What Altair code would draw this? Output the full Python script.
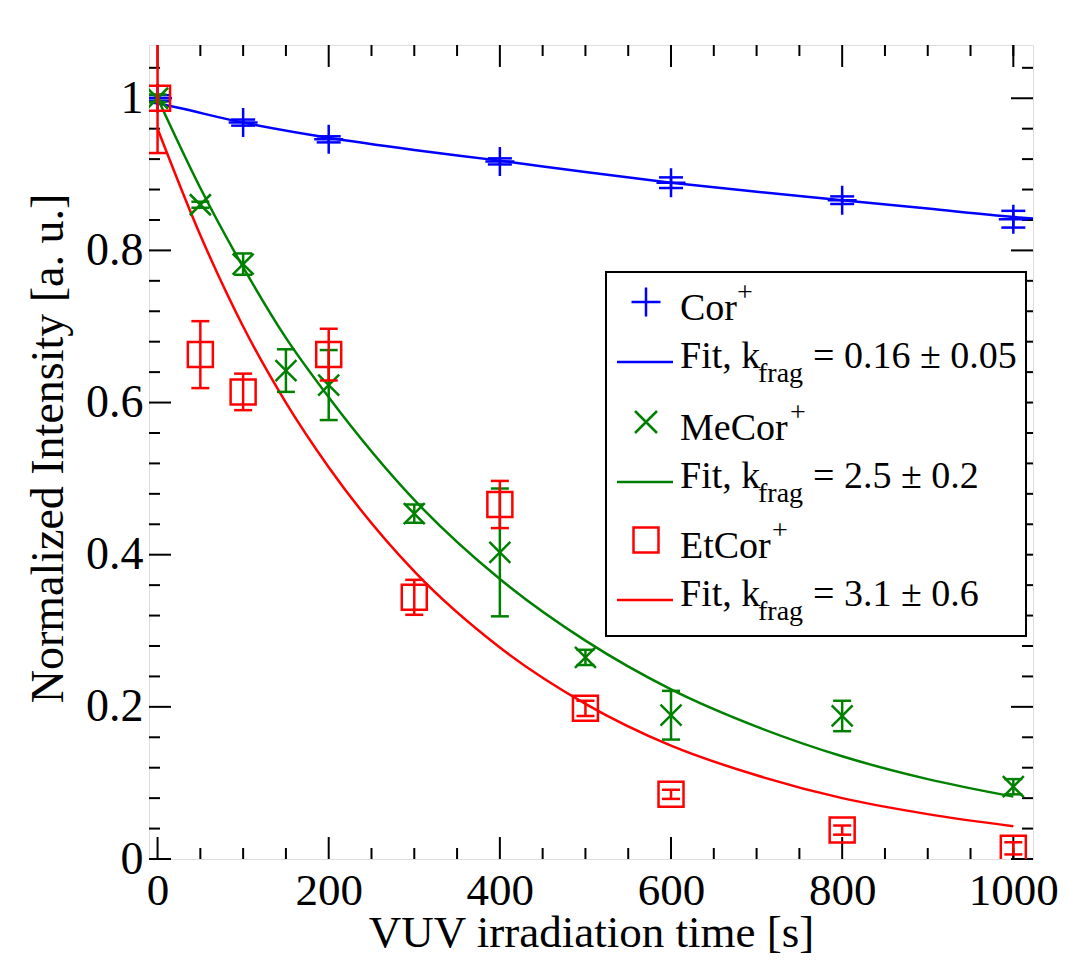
import altair as alt
import pandas as pd

# ---------------- data ----------------
t_cor = [0, 100, 200, 400, 600, 800, 1000]
cor = [1.0, 0.968, 0.946, 0.917, 0.889, 0.866, 0.841]
cor_err = [0.004, 0.004, 0.004, 0.004, 0.007, 0.005, 0.011]

t_me = [0, 50, 100, 150, 200, 300, 400, 500, 600, 800, 1000]
me = [1.0, 0.860, 0.782, 0.642, 0.623, 0.454, 0.403, 0.265, 0.189, 0.188, 0.095]
me_err = [0.005, 0.004, 0.014, 0.028, 0.046, 0.012, 0.084, 0.010, 0.032, 0.020, 0.010]

t_et = [0, 50, 100, 200, 300, 400, 500, 600, 800, 1000]
et = [1.0, 0.663, 0.614, 0.663, 0.344, 0.466, 0.198, 0.085, 0.038, 0.014]
et_err = [0.072, 0.044, 0.024, 0.034, 0.023, 0.031, 0.010, 0.006, 0.006, 0.008]

fit_cor_t = [-10, 0, 100, 200, 300, 400, 500, 600, 700, 800, 900, 1000, 1023]
fit_cor = [0.995, 0.993, 0.968, 0.948, 0.932, 0.918, 0.903, 0.889, 0.877, 0.866, 0.855, 0.844, 0.842]

fit_t = [0, 50, 100, 150, 200, 300, 400, 500, 600, 700, 800, 900, 1000]
fit_me = [1.0, 0.882, 0.778, 0.685, 0.607, 0.472, 0.368, 0.287, 0.223, 0.174, 0.135, 0.105, 0.082]
fit_et = [0.96, 0.82, 0.70, 0.60, 0.515, 0.378, 0.278, 0.204, 0.149, 0.110, 0.080, 0.059, 0.043]

x_major = [0, 200, 400, 600, 800, 1000]
x_minor = [50, 100, 150, 250, 300, 350, 450, 500, 550, 650, 700, 750, 850, 900, 950, 1000]
y_major = [0, 0.2, 0.4, 0.6, 0.8, 1.0]
y_minor = [0.04, 0.08, 0.12, 0.16, 0.24, 0.28, 0.32, 0.36, 0.44, 0.48, 0.52, 0.56,
           0.64, 0.68, 0.72, 0.76, 0.84, 0.88, 0.92, 0.96, 1.04]

legend_names = ["Cor", "MeCor", "EtCor"]
legend_fits = ["= 0.16 \u00b1 0.05", "= 2.5 \u00b1 0.2", "= 3.1 \u00b1 0.6"]

BLUE, GREEN, RED = "#0000ff", "#008000", "#ff0000"
FONT = "Liberation Serif"
W, H = 884, 814

xscale = alt.Scale(domain=[-10, 1023], nice=False, zero=False)
yscale = alt.Scale(domain=[0, 1.07], nice=False, zero=False)

xaxis = alt.Axis(values=x_major, ticks=False, domain=False, grid=False, format="d",
                 labelFont=FONT, labelFontSize=45, labelColor="black", labelPadding=9,
                 labelFlush=False, labelOverlap=False,
                 title="VUV irradiation time [s]", titleFont=FONT, titleFontSize=45,
                 titleFontWeight="normal", titleColor="black",
                 titleBaseline="alphabetic", titleY=87)
yaxis = alt.Axis(values=y_major, ticks=False, domain=False, grid=False, format=".1~f",
                 labelFont=FONT, labelFontSize=46, labelColor="black", labelPadding=6,
                 labelFlush=False, labelOverlap=False,
                 title="Normalized Intensity [a. u.]", titleFont=FONT, titleFontSize=46,
                 titleFontWeight="normal", titleColor="black", titleAngle=270,
                 titleAlign="center", titleBaseline="alphabetic", titleX=-87, titleY=403)


def X(field="t"):
    return alt.X(f"{field}:Q", scale=xscale, axis=xaxis)


def Y(field="y"):
    return alt.Y(f"{field}:Q", scale=yscale, axis=yaxis)


def table(t, y, e=None):
    d = pd.DataFrame({"t": t, "y": y})
    if e is not None:
        d["lo"] = [a - b for a, b in zip(y, e)]
        d["hi"] = [a + b for a, b in zip(y, e)]
    return d


PLUS = "M-1,0L1,0M0,-1L0,1"
CROSS = "M-1,-1L1,1M-1,1L1,-1"
HBAR = "M-1,0L1,0"

layers = []

# ticks (inward, on all four sides)
xmaj = pd.DataFrame({"t": x_major})
xmin = pd.DataFrame({"t": x_minor})
ymaj = pd.DataFrame({"y": y_major})
ymin = pd.DataFrame({"y": y_minor})
for d, L in [(xmin, 11), (xmaj, 22)]:
    layers.append(alt.Chart(d).mark_rule(color="black", strokeWidth=2).encode(
        x=X(), y=alt.value(H), y2=alt.value(H - L)))
    layers.append(alt.Chart(d).mark_rule(color="black", strokeWidth=2).encode(
        x=X(), y=alt.value(0), y2=alt.value(L)))
for d, L in [(ymin, 11), (ymaj, 22)]:
    layers.append(alt.Chart(d).mark_rule(color="black", strokeWidth=2).encode(
        y=Y(), x=alt.value(0), x2=alt.value(L)))
    layers.append(alt.Chart(d).mark_rule(color="black", strokeWidth=2).encode(
        y=Y(), x=alt.value(W), x2=alt.value(W - L)))

# fit curves
for ft, fy, col in [(fit_cor_t, fit_cor, BLUE), (fit_t, fit_me, GREEN), (fit_t, fit_et, RED)]:
    layers.append(alt.Chart(table(ft, fy)).mark_line(
        color=col, strokeWidth=2.5, interpolate="monotone", clip=True).encode(x=X(), y=Y()))

# data with error bars
series = [
    (t_cor, cor, cor_err, BLUE, PLUS, 841, 24),
    (t_me, me, me_err, GREEN, CROSS, 441, 18),
    (t_et, et, et_err, RED, "square", 625, 18),
]
for t, y, e, col, shape, size, cap in series:
    d = table(t, y, e)
    base = alt.Chart(d)
    layers.append(base.mark_rule(color=col, strokeWidth=2.5, clip=True).encode(
        x=X(), y=Y("lo"), y2=alt.Y2("hi")))
    for f in ["lo", "hi"]:
        layers.append(base.mark_point(shape=HBAR, size=cap * cap, filled=False,
                                      stroke=col, strokeWidth=2.5, opacity=1, clip=True).encode(
            x=X(), y=Y(f)))
    layers.append(base.mark_point(shape=shape, size=size, filled=False, stroke=col,
                                  strokeWidth=2.5, opacity=1, clip=True).encode(x=X(), y=Y()))

# legend (drawn by hand for the sub/superscripts)
one = pd.DataFrame({"v": [0]})
layers.append(alt.Chart(one).mark_rect(fill="white", stroke="black", strokeWidth=2).encode(
    x=alt.value(457), x2=alt.value(877), y=alt.value(227), y2=alt.value(591)))

syms = [(PLUS, 841, BLUE), (CROSS, 484, GREEN), ("square", 625, RED)]
lcols = [BLUE, GREEN, RED]
sup_x = [588, 641, 623]
row0 = [275, 395, 513]       # baselines of species names
for i in range(3):
    shp, sz, col = syms[i]
    ycen = row0[i] - 18
    layers.append(alt.Chart(one).mark_point(shape=shp, size=sz, filled=False, stroke=col,
                                            strokeWidth=2.5, opacity=1).encode(
        x=alt.value(497), y=alt.value(ycen)))
    layers.append(alt.Chart(one).mark_text(text=legend_names[i], font=FONT, fontSize=38,
                                           align="left", baseline="alphabetic", color="black").encode(
        x=alt.value(531), y=alt.value(row0[i])))
    layers.append(alt.Chart(one).mark_text(text="+", font=FONT, fontSize=28,
                                           align="left", baseline="alphabetic", color="black").encode(
        x=alt.value(sup_x[i]), y=alt.value(row0[i] - 19)))
    yb = row0[i] + 48
    layers.append(alt.Chart(one).mark_rule(color=lcols[i], strokeWidth=2.5).encode(
        x=alt.value(468), x2=alt.value(524), y=alt.value(yb - 6)))
    layers.append(alt.Chart(one).mark_text(text="Fit, k", font=FONT, fontSize=38,
                                           align="left", baseline="alphabetic", color="black").encode(
        x=alt.value(531), y=alt.value(yb)))
    layers.append(alt.Chart(one).mark_text(text="frag", font=FONT, fontSize=28,
                                           align="left", baseline="alphabetic", color="black").encode(
        x=alt.value(609), y=alt.value(yb + 14)))
    layers.append(alt.Chart(one).mark_text(text=legend_fits[i], font=FONT, fontSize=38,
                                           align="left", baseline="alphabetic", color="black").encode(
        x=alt.value(664), y=alt.value(yb)))

chart = alt.layer(*layers).properties(
    width=W, height=H,
    autosize=alt.AutoSizeParams(type="none"),
    padding={"left": 141, "top": 37, "right": 26, "bottom": 97},
).configure_view(stroke="black", strokeWidth=2.5).configure(background="white")

chart.save("out.html", embed_options={"renderer": "svg", "actions": False})
